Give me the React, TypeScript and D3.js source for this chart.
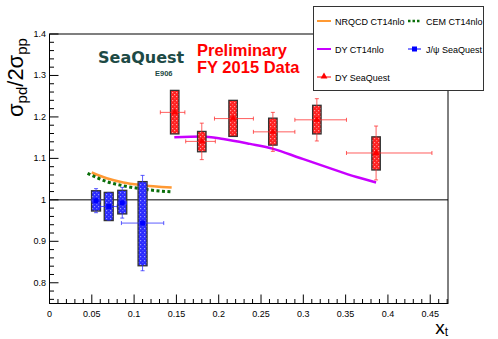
import { useEffect, useRef } from 'react'
import * as d3 from 'd3'

// J/psi SeaQuest points
const jpsiX = [0.055, 0.070, 0.086, 0.110]
const jpsiY = [0.998, 0.984, 0.993, 0.944]
const jpsiEx = [0.005, 0.010, 0.005, 0.025]
const jpsiStat = [0.029, 0.033, 0.037, 0.115]
const jpsiSysHi = [0.024, 0.034, 0.030, 0.100]
const jpsiSysLo = [0.025, 0.034, 0.027, 0.103]

// DY SeaQuest points
const dyX = [0.148, 0.180, 0.217, 0.264, 0.316, 0.386]
const dyY = [1.211, 1.141, 1.196, 1.164, 1.193, 1.113]
const dyXLo = [0.131, 0.161, 0.195, 0.241, 0.290, 0.351]
const dyXHi = [0.160, 0.196, 0.241, 0.290, 0.351, 0.452]
const dyStat = [0.035, 0.044, 0.035, 0.047, 0.051, 0.065]
const dySysHi = [0.053, 0.024, 0.044, 0.033, 0.035, 0.039]
const dySysLo = [0.052, 0.025, 0.043, 0.032, 0.034, 0.041]

// theory curves
const dyThX = [0.1475, 0.180, 0.2054, 0.237, 0.2645, 0.296, 0.3277, 0.363, 0.386]
const dyThY = [1.151, 1.153, 1.147, 1.135, 1.123, 1.101, 1.079, 1.055, 1.042]
const nrqcdX = [0.0499, 0.0676, 0.0872, 0.107, 0.1444]
const nrqcdY = [1.066, 1.052, 1.042, 1.036, 1.030]
const cemX = [0.045, 0.0676, 0.0872, 0.107, 0.1444]
const cemY = [1.064, 1.044, 1.034, 1.027, 1.019]

const xTicks = [0, 0.05, 0.1, 0.15, 0.2, 0.25, 0.3, 0.35, 0.4, 0.45]
const yTicks = [0.8, 0.9, 1, 1.1, 1.2, 1.3, 1.4]

export default function App() {
  const svgRef = useRef<SVGSVGElement>(null)

  useEffect(() => {
    const svg = d3.select(svgRef.current)
    svg.selectAll('*').remove()
    const font = 'Liberation Sans, Arial, sans-serif'

    const L = 49.5, R = 448, T = 34, B = 303.5
    const x = d3.scaleLinear().domain([0, 0.471]).range([L, R])
    const y = d3.scaleLinear().domain([0.75, 1.4]).range([B, T])

    const defs = svg.append('defs')
    const pat = (id: string, base: string, dot: string) => {
      const p = defs.append('pattern').attr('id', id).attr('width', 4).attr('height', 4).attr('patternUnits', 'userSpaceOnUse')
      p.append('rect').attr('width', 4).attr('height', 4).attr('fill', base)
      p.append('rect').attr('x', 0).attr('y', 0).attr('width', 1.2).attr('height', 1.2).attr('fill', dot)
      p.append('rect').attr('x', 2).attr('y', 2).attr('width', 1.2).attr('height', 1.2).attr('fill', dot)
    }
    pat('bluePat', '#2b2bff', '#9a9aff')
    pat('redPat', '#ff2020', '#ff9a9a')

    // frame
    svg.append('rect').attr('x', L).attr('y', T).attr('width', R - L).attr('height', B - T)
      .attr('fill', 'none').attr('stroke', '#000').attr('stroke-width', 1)

    // y ticks
    const yMinor = d3.range(0.76, 1.401, 0.02)
    yMinor.forEach(v => {
      const major = Math.abs(v * 10 - Math.round(v * 10)) < 1e-6
      svg.append('line').attr('x1', L).attr('x2', L + (major ? 9 : 4.5)).attr('y1', y(v)).attr('y2', y(v))
        .attr('stroke', '#000').attr('stroke-width', 1)
    })
    yTicks.forEach(v => {
      svg.append('text').attr('x', 46).attr('y', y(v) + 3).attr('text-anchor', 'end')
        .attr('font-family', font).attr('font-size', 9).text(d3.format('')(v))
    })
    // x ticks
    const xMinor = d3.range(0, 0.4701, 0.01)
    xMinor.forEach((v, i) => {
      const major = i % 5 === 0
      svg.append('line').attr('x1', x(v)).attr('x2', x(v)).attr('y1', B).attr('y2', B - (major ? 9 : 4.5))
        .attr('stroke', '#000').attr('stroke-width', 1)
    })
    xTicks.forEach(v => {
      svg.append('text').attr('x', x(v)).attr('y', 316.5).attr('text-anchor', 'middle')
        .attr('font-family', font).attr('font-size', 9).text(d3.format('')(v))
    })

    // unity line
    svg.append('line').attr('x1', L).attr('x2', R).attr('y1', y(1)).attr('y2', y(1)).attr('stroke', '#000').attr('stroke-width', 1)

    // axis titles
    const yt = svg.append('text').attr('transform', 'translate(23,117) rotate(-90)')
      .attr('font-family', font).attr('font-size', 22)
    yt.append('tspan').text('σ')
    yt.append('tspan').attr('font-size', 15).attr('dy', 4).text('pd')
    yt.append('tspan').attr('dy', -4).text('/2σ')
    yt.append('tspan').attr('font-size', 15).attr('dy', 4).text('pp')
    const xt = svg.append('text').attr('x', 448).attr('y', 334).attr('text-anchor', 'end')
      .attr('font-family', font).attr('font-size', 19)
    xt.append('tspan').text('x')
    xt.append('tspan').attr('font-size', 12).attr('dy', 1.5).text('t')

    // curves
    const line = d3.line<[number, number]>().x(d => x(d[0])).y(d => y(d[1])).curve(d3.curveMonotoneX)
    svg.append('path').attr('d', line(nrqcdX.map((v, i) => [v, nrqcdY[i]]))).attr('fill', 'none')
      .attr('stroke', '#ff9933').attr('stroke-width', 2.5)
    svg.append('path').attr('d', line(cemX.map((v, i) => [v, cemY[i]]))).attr('fill', 'none')
      .attr('stroke', '#0a6e0a').attr('stroke-width', 3).attr('stroke-dasharray', '3,2.5')
    svg.append('path').attr('d', line(dyThX.map((v, i) => [v, dyThY[i]]))).attr('fill', 'none')
      .attr('stroke', '#c800ff').attr('stroke-width', 2.5)

    // J/psi
    jpsiX.forEach((v, i) => {
      const hw = 0.0053
      svg.append('rect').attr('x', x(v - hw)).attr('y', y(jpsiY[i] + jpsiSysHi[i]))
        .attr('width', x(v + hw) - x(v - hw)).attr('height', y(jpsiY[i] - jpsiSysLo[i]) - y(jpsiY[i] + jpsiSysHi[i]))
        .attr('fill', 'url(#bluePat)').attr('stroke', '#333').attr('stroke-width', 1.3)
      const c = 'rgba(40,40,255,0.75)'
      const cx = x(v), cy = y(jpsiY[i])
      svg.append('line').attr('x1', x(v - jpsiEx[i])).attr('x2', x(v + jpsiEx[i])).attr('y1', cy).attr('y2', cy).attr('stroke', c)
      svg.append('line').attr('x1', cx).attr('x2', cx).attr('y1', y(jpsiY[i] - jpsiStat[i])).attr('y2', y(jpsiY[i] + jpsiStat[i])).attr('stroke', c)
      ;[jpsiY[i] - jpsiStat[i], jpsiY[i] + jpsiStat[i]].forEach(e => {
        svg.append('line').attr('x1', cx - 2).attr('x2', cx + 2).attr('y1', y(e)).attr('y2', y(e)).attr('stroke', c)
      })
      ;[v - jpsiEx[i], v + jpsiEx[i]].forEach(e => {
        svg.append('line').attr('x1', x(e)).attr('x2', x(e)).attr('y1', cy - 2).attr('y2', cy + 2).attr('stroke', c)
      })
      svg.append('rect').attr('x', cx - 2.5).attr('y', cy - 2.5).attr('width', 5).attr('height', 5).attr('fill', '#0000ff')
    })

    // DY SeaQuest
    const tri = d3.symbol().type(d3.symbolTriangle).size(20)
    dyX.forEach((v, i) => {
      const hw = 0.005
      svg.append('rect').attr('x', x(v - hw)).attr('y', y(dyY[i] + dySysHi[i]))
        .attr('width', x(v + hw) - x(v - hw)).attr('height', y(dyY[i] - dySysLo[i]) - y(dyY[i] + dySysHi[i]))
        .attr('fill', 'url(#redPat)').attr('stroke', '#333').attr('stroke-width', 1.3)
      const c = 'rgba(255,40,40,0.75)'
      const cx = x(v), cy = y(dyY[i])
      svg.append('line').attr('x1', x(dyXLo[i])).attr('x2', x(dyXHi[i])).attr('y1', cy).attr('y2', cy).attr('stroke', c)
      svg.append('line').attr('x1', cx).attr('x2', cx).attr('y1', y(dyY[i] - dyStat[i])).attr('y2', y(dyY[i] + dyStat[i])).attr('stroke', c)
      ;[dyY[i] - dyStat[i], dyY[i] + dyStat[i]].forEach(e => {
        svg.append('line').attr('x1', cx - 2).attr('x2', cx + 2).attr('y1', y(e)).attr('y2', y(e)).attr('stroke', c)
      })
      ;[dyXLo[i], dyXHi[i]].forEach(e => {
        svg.append('line').attr('x1', x(e)).attr('x2', x(e)).attr('y1', cy - 2).attr('y2', cy + 2).attr('stroke', c)
      })
      svg.append('path').attr('d', tri).attr('transform', `translate(${cx},${cy})`).attr('fill', '#ff0000')
    })

    // logo & preliminary text
    svg.append('text').attr('x', 98).attr('y', 63).attr('font-family', 'DejaVu Sans, sans-serif').attr('font-weight', 'bold')
      .attr('font-size', 16).attr('fill', '#1d4a45').text('SeaQuest')
    svg.append('text').attr('x', 155).attr('y', 76).attr('font-family', font).attr('font-weight', 'bold')
      .attr('font-size', 7.5).attr('fill', '#1d4a45').text('E906')
    svg.append('text').attr('x', 197).attr('y', 56).attr('font-family', font).attr('font-weight', 'bold')
      .attr('font-size', 16.5).attr('fill', '#ff0000').text('Preliminary')
    svg.append('text').attr('x', 197).attr('y', 73).attr('font-family', font).attr('font-weight', 'bold')
      .attr('font-size', 16.5).attr('fill', '#ff0000').text('FY 2015 Data')

    // legend
    svg.append('rect').attr('x', 313.5).attr('y', 6.5).attr('width', 170).attr('height', 84)
      .attr('fill', '#fff').attr('stroke', '#333').attr('stroke-width', 1)
    const lg = (lx: number, ly: number, label: string) =>
      svg.append('text').attr('x', lx).attr('y', ly + 3.5).attr('font-family', font).attr('font-size', 9).attr('fill', '#000').text(label)
    svg.append('line').attr('x1', 317).attr('x2', 331).attr('y1', 21).attr('y2', 21).attr('stroke', '#ff9933').attr('stroke-width', 2)
    lg(335, 21, 'NRQCD CT14nlo')
    svg.append('line').attr('x1', 408).attr('x2', 421).attr('y1', 21).attr('y2', 21).attr('stroke', '#0a6e0a').attr('stroke-width', 2.5).attr('stroke-dasharray', '2.5,2')
    lg(426, 21, 'CEM CT14nlo')
    svg.append('line').attr('x1', 317).attr('x2', 331).attr('y1', 49).attr('y2', 49).attr('stroke', '#c800ff').attr('stroke-width', 2)
    lg(335, 49, 'DY CT14nlo')
    svg.append('line').attr('x1', 408).attr('x2', 421).attr('y1', 49).attr('y2', 49).attr('stroke', '#0000ff').attr('stroke-width', 1)
    svg.append('rect').attr('x', 412).attr('y', 46.5).attr('width', 5).attr('height', 5).attr('fill', '#0000ff')
    lg(426, 49, 'J/ψ SeaQuest')
    svg.append('line').attr('x1', 317).attr('x2', 331).attr('y1', 77).attr('y2', 77).attr('stroke', '#ff0000').attr('stroke-width', 1)
    svg.append('path').attr('d', tri).attr('transform', 'translate(324,76.5)').attr('fill', '#ff0000')
    lg(335, 77, 'DY SeaQuest')
  }, [])

  return (
    <div style={{ position: 'fixed', left: 0, top: 0, width: 498, height: 339, background: '#fff' }}>
      <svg ref={svgRef} width={498} height={339} />
    </div>
  )
}
